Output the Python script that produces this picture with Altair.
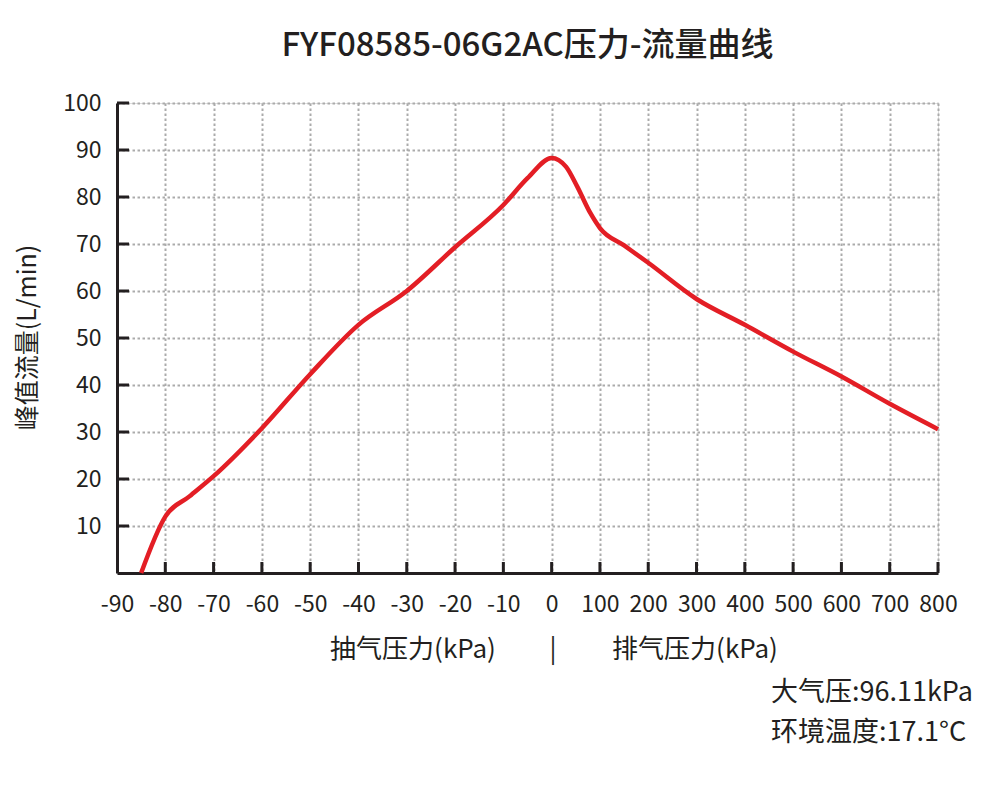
import altair as alt
import pandas as pd

# ---- data ----
pressure_kpa = [-85, -80, -75, -70, -60, -50, -40, -30, -20, -10, -5, 0,
                30, 53, 80, 100, 150, 200, 300, 400, 500, 600, 700, 800]
flow_lpm = [0, 12.0, 16.3, 20.6, 30.8, 42.3, 52.8, 60.0, 69.3, 78.3, 84.0, 88.3,
            86.4, 82.2, 76.6, 73.4, 69.7, 66.0, 58.3, 52.8, 47.1, 41.8, 36.0, 30.6]

x_tick_values = [-90, -80, -70, -60, -50, -40, -30, -20, -10, 0,
                 100, 200, 300, 400, 500, 600, 700, 800]
y_tick_values = [10, 20, 30, 40, 50, 60, 70, 80, 90, 100]

title_text = "FYF08585-06G2AC压力-流量曲线"
y_title = "峰值流量(L/min)"
x_title_left = "抽气压力(kPa)"
x_title_sep = "|"
x_title_right = "排气压力(kPa)"
note_lines = ["大气压:96.11kPa", "环境温度:17.1°C"]

FONT = "Noto Sans CJK SC"
DARK = "#231f20"
RED = "#e31e25"
W, H = 821, 470

curve_df = pd.DataFrame({"kPa": pressure_kpa, "flow": flow_lpm})
xt_df = pd.DataFrame({"kPa": x_tick_values[1:]})
yt_df = pd.DataFrame({"flow": y_tick_values})

x_scale = alt.Scale(domain=[-90, 0, 800], range=[0, W * 9 / 17, W], nice=False, zero=False)
y_scale = alt.Scale(domain=[0, 100], nice=False, zero=False)

x_axis = alt.Axis(values=x_tick_values, labelExpr="'' + datum.value", title=None, ticks=False,
                  labelOverlap=False, labelBound=False, labelFlush=False,
                  labelPadding=20, labelFontSize=23, labelFont=FONT, labelColor=DARK,
                  domainColor=DARK, domainWidth=3,
                  grid=True, gridColor="#ababab", gridDash=[2.5, 2.5], gridWidth=2)
y_axis = alt.Axis(values=y_tick_values, labelExpr="'' + datum.value", title=y_title, ticks=False,
                  labelOverlap=False,
                  labelPadding=16, labelFontSize=23, labelFont=FONT, labelColor=DARK,
                  domainColor=DARK, domainWidth=3,
                  titleFont=FONT, titleFontSize=25, titleFontWeight="normal", titleColor=DARK,
                  titleAngle=-90, titleX=-90, titleY=H / 2 - 1, titleBaseline="middle", titleAlign="center",
                  grid=True, gridColor="#ababab", gridDash=[2.5, 2.5], gridWidth=2)

line = alt.Chart(curve_df).mark_line(color=RED, strokeWidth=4.5, interpolate="monotone").encode(
    x=alt.X("kPa:Q", scale=x_scale, axis=x_axis),
    y=alt.Y("flow:Q", scale=y_scale, axis=y_axis),
)

x_ticks = alt.Chart(xt_df).mark_rule(color=DARK, strokeWidth=3).encode(
    x=alt.X("kPa:Q", scale=x_scale),
    y=alt.value(H), y2=alt.value(H - 11),
)
y_ticks = alt.Chart(yt_df).mark_rule(color=DARK, strokeWidth=3).encode(
    y=alt.Y("flow:Q", scale=y_scale),
    x=alt.value(0), x2=alt.value(12),
)

def label(txt, x, y, align="center", size=26):
    return alt.Chart(pd.DataFrame({"t": [txt]})).mark_text(
        font=FONT, fontSize=size, color=DARK, align=align, baseline="middle"
    ).encode(text="t:N", x=alt.value(x), y=alt.value(y))

texts = [
    label(x_title_left, 296, 547),
    label(x_title_sep, 436, 547),
    label(x_title_right, 578, 547),
    label(note_lines[0], 654, 590, align="left", size=27),
    label(note_lines[1], 654, 630, align="left", size=27),
]

chart = alt.layer(line, x_ticks, y_ticks, *texts).properties(
    width=W, height=H,
    title=alt.TitleParams(title_text, font=FONT, fontSize=33, fontWeight=500, color=DARK,
                          anchor="middle", offset=29),
    autosize=alt.AutoSizeParams(type="none"),
    padding={"left": 109, "top": 95, "right": 54, "bottom": 207},
).configure_view(stroke=None).configure(background="white")

chart.save("out.html", embed_options={"renderer": "svg", "actions": False})
